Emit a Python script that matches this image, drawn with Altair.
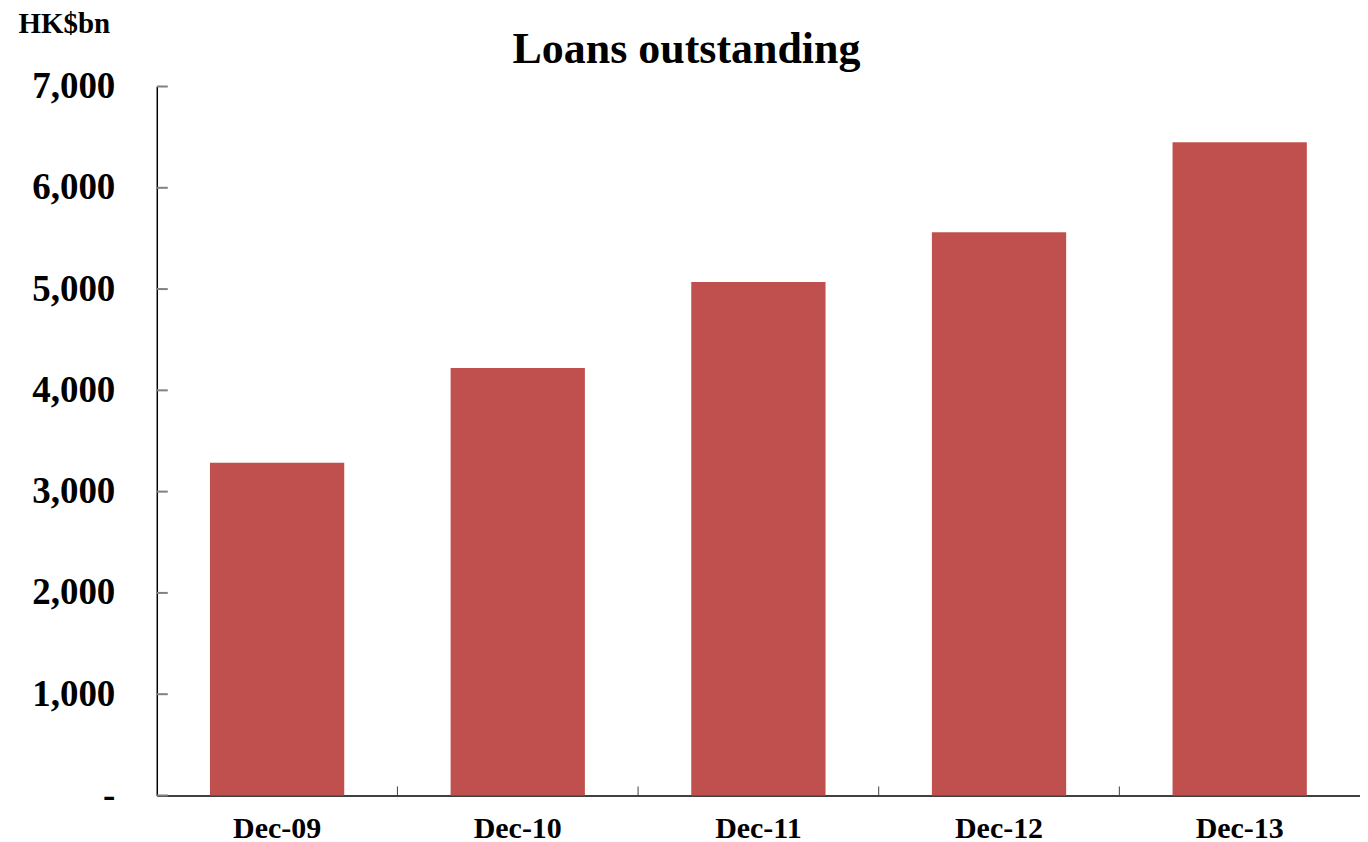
import altair as alt
import pandas as pd

categories = ["Dec-09", "Dec-10", "Dec-11", "Dec-12", "Dec-13"]
loans = [3285, 4220, 5070, 5560, 6450]
y_ticks = [0, 1000, 2000, 3000, 4000, 5000, 6000, 7000]

W, H = 1205, 710
FONT = "Liberation Serif"
P_INNER = 0.442

df = pd.DataFrame({"period": categories, "loans": loans})
ticks_df = pd.DataFrame({"v": y_ticks})
xticks_df = pd.DataFrame({"period": categories[1:]})

xscale = alt.Scale(domain=categories, paddingInner=P_INNER, paddingOuter=P_INNER / 2)
yscale = alt.Scale(domain=[0, 7000], nice=False)

bars = alt.Chart(df).mark_bar(color="#C0504D").encode(
    x=alt.X("period:N", scale=xscale, sort=categories,
            axis=alt.Axis(title=None, labelAngle=0, ticks=False, labelFont=FONT,
                          labelFontSize=30, labelFontWeight="bold", labelColor="black",
                          labelPadding=18, domainColor="black", domainWidth=1.5)),
    y=alt.Y("loans:Q", scale=yscale,
            axis=alt.Axis(values=y_ticks, ticks=False, grid=False,
                          labelExpr="datum.value == 0 ? '-\u00a0\u00a0' : format(datum.value, ',')",
                          labelFont=FONT, labelFontSize=37, labelFontWeight="bold",
                          labelColor="black", labelPadding=42,
                          domainColor="black", domainWidth=1.5,
                          title="HK$bn", titleAngle=0, titleAlign="left",
                          titleBaseline="alphabetic", titleX=-139, titleY=-54,
                          titleFont=FONT, titleFontSize=29, titleFontWeight="bold",
                          titleColor="black")),
)

ytick_rules = alt.Chart(ticks_df).mark_rule(color="#808080", strokeWidth=2).encode(
    y=alt.Y("v:Q", scale=yscale),
    x=alt.value(0),
    x2=alt.value(11),
)

# boundary between categories: band start minus half the inner gap
step = W / len(categories)
half_gap = P_INNER * step / 2
xtick_rules = alt.Chart(xticks_df).mark_rule(color="#404040", strokeWidth=1,
                                             xOffset=-half_gap).encode(
    x=alt.X("period:N", scale=xscale, sort=categories, bandPosition=0),
    y=alt.value(H - 9),
    y2=alt.value(H),
)

chart = alt.layer(bars, ytick_rules, xtick_rules).properties(
    width=W, height=H,
    autosize=alt.AutoSizeParams(type="none"),
    padding={"left": 149, "top": 78, "right": 0, "bottom": 60},
    title=alt.TitleParams("Loans outstanding", font=FONT, fontSize=44, fontWeight="bold",
                          color="black", anchor="middle", frame="group",
                          baseline="alphabetic", dx=-72, dy=101),
).configure_view(stroke=None).configure_axis(grid=False)

chart.save("out.html", embed_options={"renderer": "svg", "actions": False})
